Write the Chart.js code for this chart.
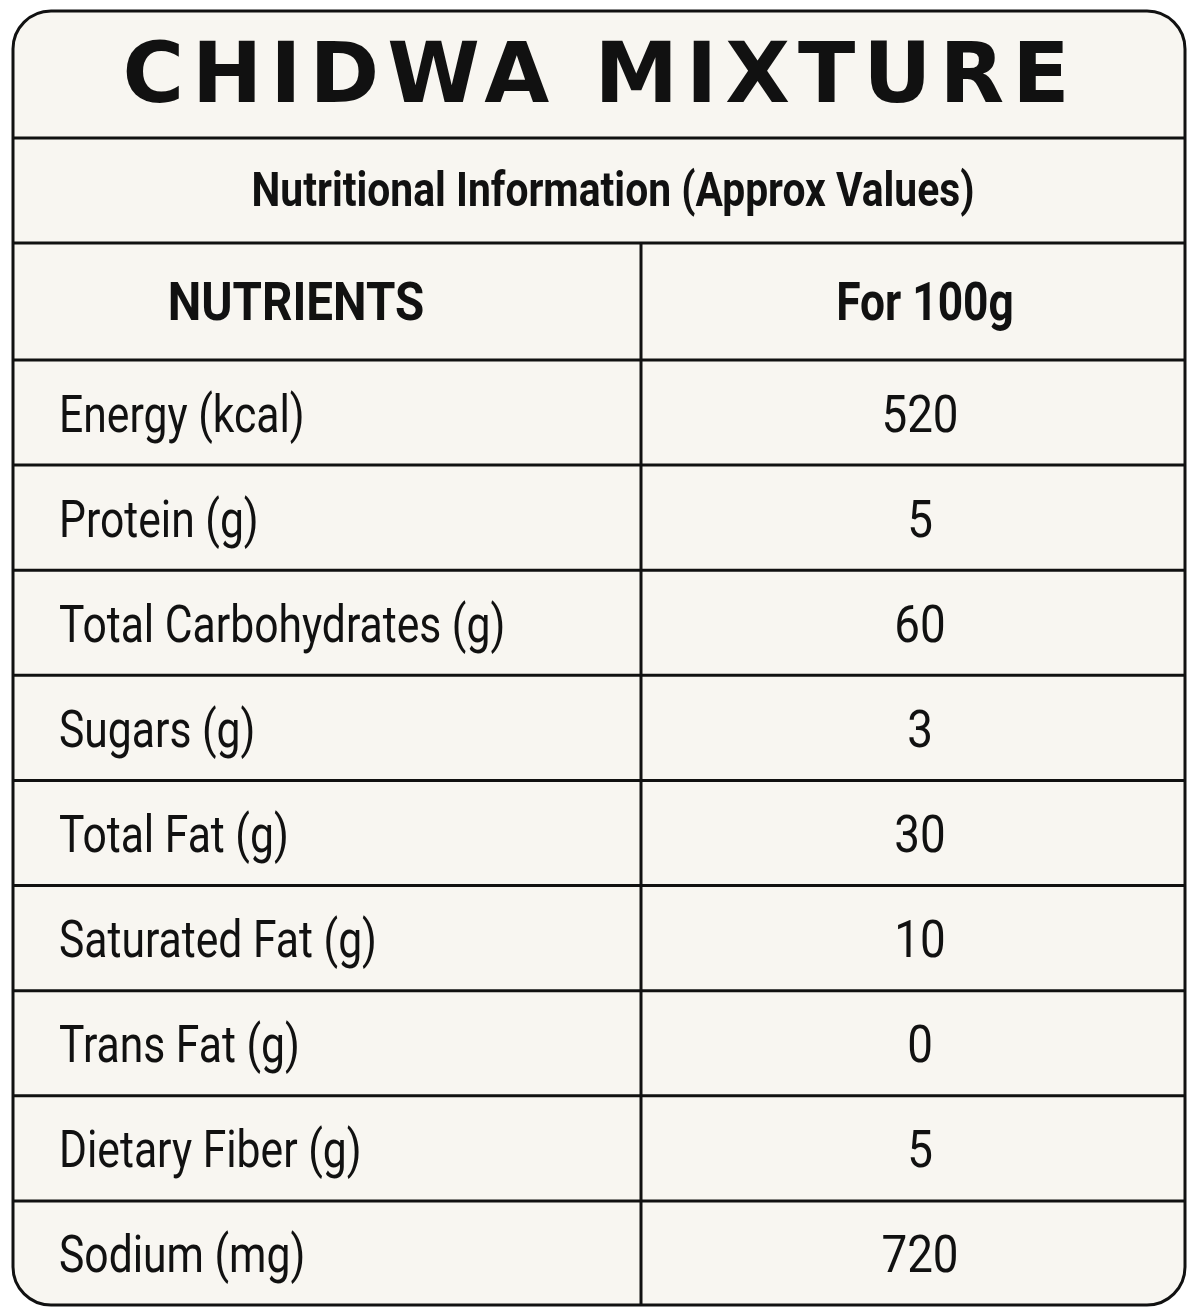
<!DOCTYPE html>
<html><head><meta charset="utf-8">
<script src="https://cdn.jsdelivr.net/npm/chart.js@4"></script>
<style>html,body{margin:0;padding:0;background:#fff}</style>
</head><body>
<canvas id="c" width="1197" height="1314"></canvas>
<script>
const title = "CHIDWA MIXTURE";
const subtitle = "Nutritional Information (Approx Values)";
const headers = ["NUTRIENTS", "For 100g"];
const nutrients = ["Energy (kcal)","Protein (g)","Total Carbohydrates (g)","Sugars (g)","Total Fat (g)","Saturated Fat (g)","Trans Fat (g)","Dietary Fiber (g)","Sodium (mg)"];
const values = [520,5,60,3,30,10,0,5,720];

const FONT = "'Roboto',sans-serif";
function squish(ctx,text,x,y,sx,align){
  ctx.save();ctx.translate(x,y);ctx.scale(sx,1);ctx.textAlign=align;ctx.fillText(text,0,0);ctx.restore();
}
const tablePlugin = {
  id:'table',
  beforeDraw(chart){
    const ctx = chart.ctx;
    ctx.save();
    ctx.fillStyle='#fff';ctx.fillRect(0,0,chart.width,chart.height);
    ctx.beginPath();ctx.roundRect(13,11,1172,1294,38);
    ctx.fillStyle='#f8f6f1';ctx.fill();
    ctx.restore();
  },
  afterDraw(chart){
    const ctx = chart.ctx, ys = chart.scales.y, a = chart.chartArea;
    const L=13,R=1185,colX=641;
    const step = ys.getPixelForValue(1)-ys.getPixelForValue(0);
    ctx.save();
    ctx.strokeStyle='#111';ctx.lineWidth=3;
    const lines=[138,243,a.top];
    for(let i=1;i<nutrients.length;i++) lines.push(ys.getPixelForValue(i)-step/2);
    lines.forEach(y=>{ctx.beginPath();ctx.moveTo(L,y);ctx.lineTo(R,y);ctx.stroke();});
    ctx.beginPath();ctx.moveTo(colX,243);ctx.lineTo(colX,1305);ctx.stroke();
    ctx.beginPath();ctx.roundRect(13,11,1172,1294,38);ctx.stroke();
    ctx.fillStyle='#111';ctx.textBaseline='middle';
    ctx.textAlign='center';
    ctx.font="bold 84px 'DejaVu Sans',sans-serif";
    ctx.letterSpacing='8px';
    ctx.fillText(title,600,80);
    ctx.letterSpacing='0px';
    ctx.font="bold 48px "+FONT;
    squish(ctx,subtitle,613,194,0.85,'center');
    ctx.font="bold 54px "+FONT;
    squish(ctx,headers[0],296,306,0.88,'center');
    squish(ctx,headers[1],925,306,0.82,'center');
    ctx.font="52px "+FONT;
    nutrients.forEach((n,i)=>{
      const y=ys.getPixelForValue(i)+6;
      squish(ctx,n,59,y,0.82,'left');
      squish(ctx,String(values[i]),920,y,0.88,'center');
    });
    ctx.restore();
  }
};
new Chart(document.getElementById('c'),{
  type:'bar',
  data:{labels:nutrients,datasets:[{data:values.map(()=>0),backgroundColor:'transparent'}]},
  options:{
    responsive:false,animation:false,indexAxis:'y',
    layout:{padding:{top:360,bottom:8,left:13,right:12}},
    plugins:{legend:{display:false},tooltip:{enabled:false}},
    scales:{y:{type:'category',display:false,offset:true},x:{display:false}}
  },
  plugins:[tablePlugin]
});
</script>
</body></html>
